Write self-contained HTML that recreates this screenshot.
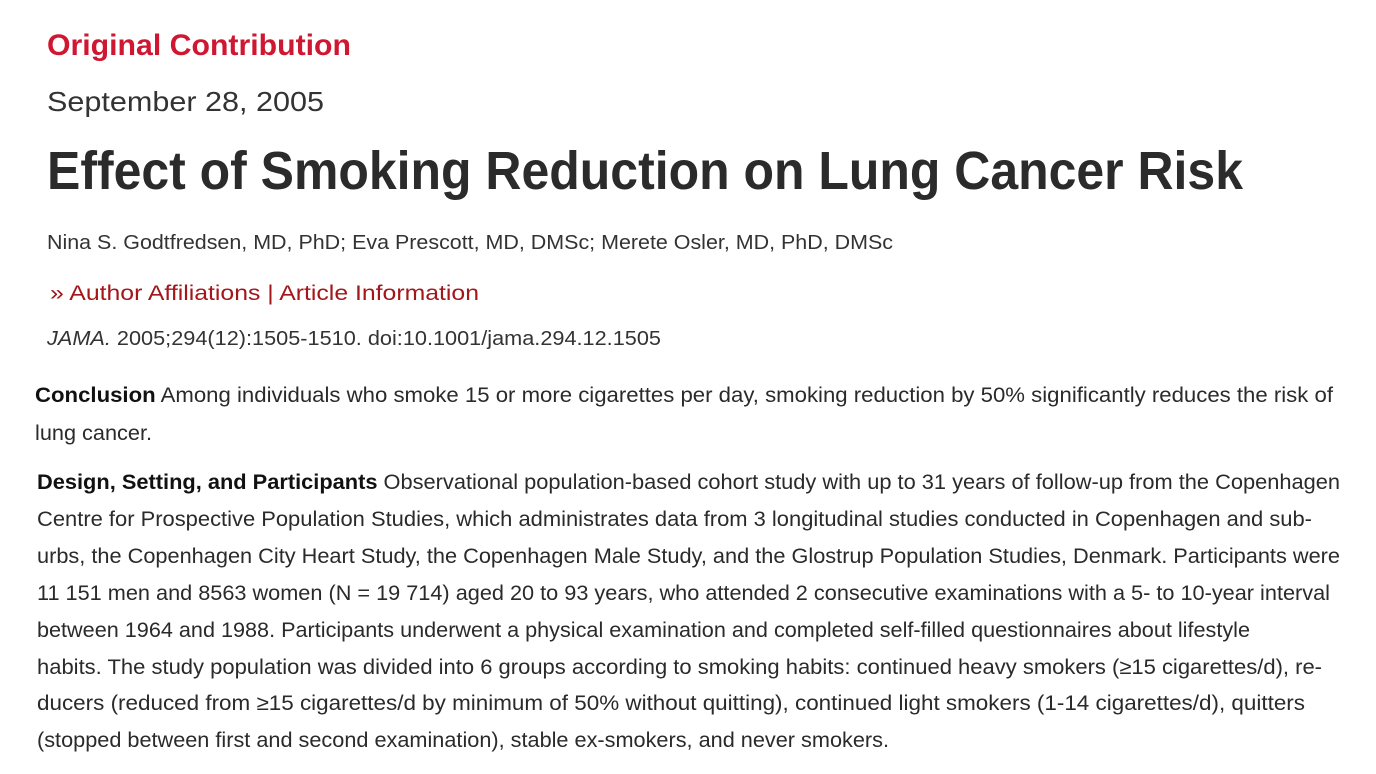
<!DOCTYPE html>
<html><head><meta charset="utf-8"><style>
html,body{margin:0;padding:0;background:#fff;width:1376px;height:774px;overflow:hidden}
svg{display:block}
text{font-family:"Liberation Sans",sans-serif}
.b{fill:#2a2a2a;font-size:21px}
</style></head><body>
<svg width="1376" height="774" viewBox="0 0 1376 774" xmlns="http://www.w3.org/2000/svg">
<text x="47" y="55" font-size="30" font-weight="bold" fill="#d01732" textLength="304" lengthAdjust="spacingAndGlyphs">Original Contribution</text>
<text x="47" y="111" font-size="28" fill="#333" textLength="277" lengthAdjust="spacingAndGlyphs">September 28, 2005</text>
<text x="47" y="189" font-size="54" font-weight="bold" fill="#2b2b2b" textLength="1196" lengthAdjust="spacingAndGlyphs">Effect of Smoking Reduction on Lung Cancer Risk</text>
<text x="47" y="249" font-size="20" fill="#333" textLength="846" lengthAdjust="spacingAndGlyphs">Nina S. Godtfredsen, MD, PhD; Eva Prescott, MD, DMSc; Merete Osler, MD, PhD, DMSc</text>
<text x="50" y="300" font-size="21" fill="#a3161a" textLength="429" lengthAdjust="spacingAndGlyphs">» Author Affiliations  |  Article Information</text>
<text x="47" y="345" font-size="20" fill="#333" textLength="614" lengthAdjust="spacingAndGlyphs"><tspan font-style="italic">JAMA.</tspan> 2005;294(12):1505-1510. doi:10.1001/jama.294.12.1505</text>
<text class="b" x="35" y="402" textLength="1298" lengthAdjust="spacingAndGlyphs"><tspan font-weight="bold" fill="#111">Conclusion</tspan> Among individuals who smoke 15 or more cigarettes per day, smoking reduction by 50% significantly reduces the risk of</text>
<text class="b" x="35" y="440" textLength="117" lengthAdjust="spacingAndGlyphs">lung cancer.</text>
<text class="b" x="37" y="489" textLength="1303" lengthAdjust="spacingAndGlyphs"><tspan font-weight="bold" fill="#111">Design, Setting, and Participants</tspan> Observational population-based cohort study with up to 31 years of follow-up from the Copenhagen</text>
<text class="b" x="37" y="526" textLength="1275" lengthAdjust="spacingAndGlyphs">Centre for Prospective Population Studies, which administrates data from 3 longitudinal studies conducted in Copenhagen and sub-</text>
<text class="b" x="37" y="563" textLength="1303" lengthAdjust="spacingAndGlyphs">urbs, the Copenhagen City Heart Study, the Copenhagen Male Study, and the Glostrup Population Studies, Denmark. Participants were</text>
<text class="b" x="37" y="600" textLength="1293" lengthAdjust="spacingAndGlyphs">11 151 men and 8563 women (N = 19 714) aged 20 to 93 years, who attended 2 consecutive examinations with a 5- to 10-year interval</text>
<text class="b" x="37" y="637" textLength="1213" lengthAdjust="spacingAndGlyphs">between 1964 and 1988. Participants underwent a physical examination and completed self-filled questionnaires about lifestyle</text>
<text class="b" x="37" y="674" textLength="1285" lengthAdjust="spacingAndGlyphs">habits. The study population was divided into 6 groups according to smoking habits: continued heavy smokers (≥15 cigarettes/d), re-</text>
<text class="b" x="37" y="710" textLength="1268" lengthAdjust="spacingAndGlyphs">ducers (reduced from ≥15 cigarettes/d by minimum of 50% without quitting), continued light smokers (1-14 cigarettes/d), quitters</text>
<text class="b" x="37" y="747" textLength="852" lengthAdjust="spacingAndGlyphs">(stopped between first and second examination), stable ex-smokers, and never smokers.</text>
</svg>
</body></html>
